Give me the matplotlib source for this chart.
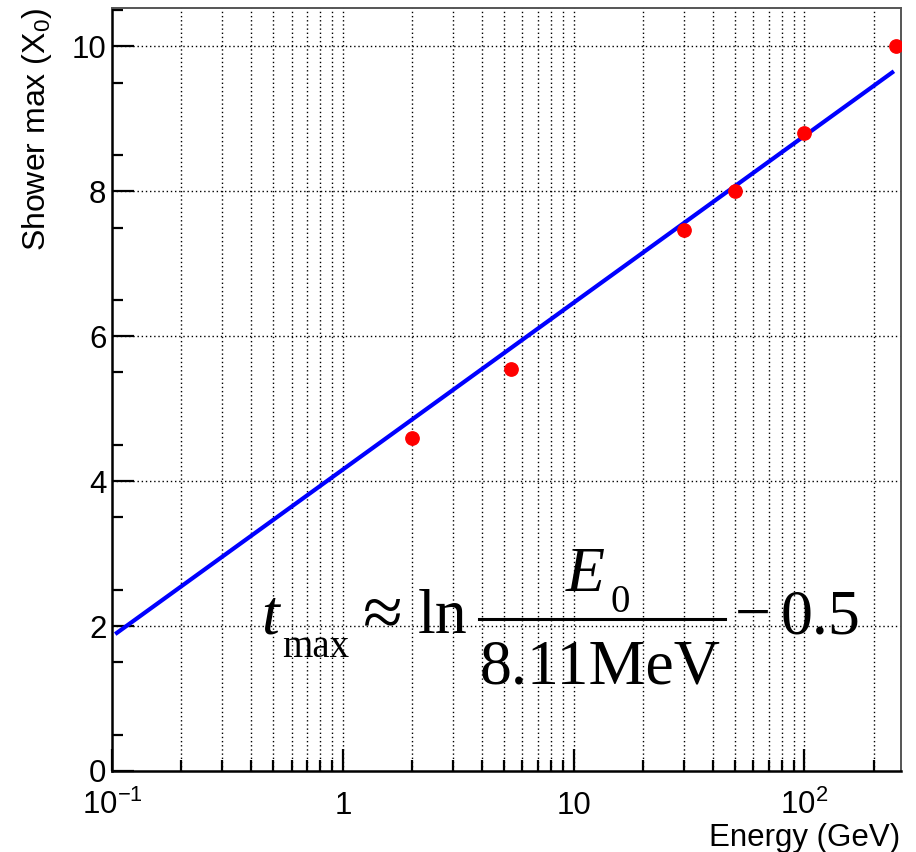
import numpy as np
import matplotlib
matplotlib.use('Agg')
from matplotlib import pyplot as plt
from matplotlib.lines import Line2D
from matplotlib.ticker import FixedLocator, NullFormatter

# measured shower maximum vs beam energy
energy = [2.0, 5.35, 30.0, 50.0, 100.0, 250.0]
shower_max = [4.60, 5.55, 7.46, 8.00, 8.80, 10.00]

# fitted curve t = offset + ln(E), drawn over the fit range
fit_offset = 4.16
fit_range = (0.105, 240.0)

x_major = [0.1, 1, 10, 100]
x_major_labels = ['$10^{-1}$', '1', '10', '$10^{2}$']
x_minor = [m * 10.0 ** k for k in (-1, 0, 1, 2) for m in range(2, 10)]
y_major = [0, 2, 4, 6, 8, 10]
y_minor = list(np.arange(0.5, 10.6, 1.0))

plt.rcParams['font.family'] = ['Liberation Sans', 'DejaVu Sans']
plt.rcParams['mathtext.fontset'] = 'custom'
plt.rcParams['mathtext.rm'] = 'Liberation Sans'
plt.rcParams['mathtext.it'] = 'Liberation Sans:italic'
plt.rcParams['mathtext.bf'] = 'Liberation Sans:bold'

W, H = 916, 852
fig = plt.figure(figsize=(W / 100, H / 100), dpi=100)
ax = fig.add_axes([112 / W, 1 - 771 / H, (901 - 112) / W, (771 - 8) / H])

ax.set_xscale('log')
ax.set_xlim(0.1, 262)
ax.set_ylim(0, 10.53)

# dotted grid on every decade subdivision and on the major y ticks
grid_kw = dict(color='black', linewidth=1.0, linestyle=(0, (1, 2)), zorder=1)
for gx in x_major + x_minor:
    if 0.1 < gx < 262:
        ax.axvline(gx, **grid_kw)
for gy in y_major[1:]:
    ax.axhline(gy, **grid_kw)

e_fit = np.logspace(np.log10(fit_range[0]), np.log10(fit_range[1]), 200)
ax.plot(e_fit, fit_offset + np.log(e_fit), color='#0000ff', linewidth=3.0, zorder=3)
ax.plot(energy, shower_max, 'o', color='#ff0000', markersize=9.6, zorder=4)

ax.xaxis.set_major_locator(FixedLocator(x_major))
ax.xaxis.set_minor_locator(FixedLocator(x_minor))
ax.set_xticklabels(x_major_labels)
ax.xaxis.set_minor_formatter(NullFormatter())
ax.set_yticks(y_major)
ax.set_yticks(y_minor, minor=True)

ax.tick_params(which='both', direction='in', top=False, right=False, width=1.6, color='black')
ax.tick_params(which='major', length=16)
ax.tick_params(which='minor', length=8)
ax.tick_params(axis='y', which='major', labelsize=22.5, pad=4)
ax.tick_params(axis='x', which='major', labelsize=22.5, pad=31)
for lbl in ax.get_xticklabels():
    lbl.set_verticalalignment('baseline')

for side in ('left', 'bottom'):
    ax.spines[side].set_linewidth(1.8)
    ax.spines[side].set_color('black')
for side in ('top', 'right'):
    ax.spines[side].set_linewidth(1.4)
    ax.spines[side].set_color('#555555')


def fpos(px, py):
    return px / W, 1 - py / H


fig.text(*fpos(900, 846), 'Energy (GeV)', fontsize=22.5, ha='right', va='baseline')
fig.text(*fpos(45, 8), 'Shower max (X$_{0}$)', fontsize=23, rotation=90,
         rotation_mode='anchor', ha='right', va='baseline')

# formula annotation
serif = ['Liberation Serif', 'DejaVu Serif']
big, small = 46, 28
fig.text(*fpos(261, 633), 't', family=serif, style='italic', fontsize=big, va='baseline')
fig.text(*fpos(282, 657), 'max', family=serif, fontsize=small, va='baseline')
fig.text(*fpos(363, 635), '\u2248', family=serif, fontsize=52, va='baseline')
fig.text(*fpos(418, 633), 'ln', family=serif, fontsize=big, va='baseline')
fig.text(*fpos(566, 591), 'E', family=serif, style='italic', fontsize=big, va='baseline')
fig.text(*fpos(611, 612), '0', family=serif, fontsize=small, va='baseline')
fig.add_artist(Line2D([479 / W, 725 / W], [1 - 619 / H] * 2, color='black',
                      linewidth=2.2, transform=fig.transFigure))
fig.text(*fpos(480, 683), '8.11MeV', family=serif, fontsize=big, va='baseline')
fig.text(*fpos(735, 633), '\u2212', family=serif, fontsize=big, va='baseline')
fig.text(*fpos(781, 633), '0.5', family=serif, fontsize=big, va='baseline')

plt.savefig('out.png', dpi=100)
